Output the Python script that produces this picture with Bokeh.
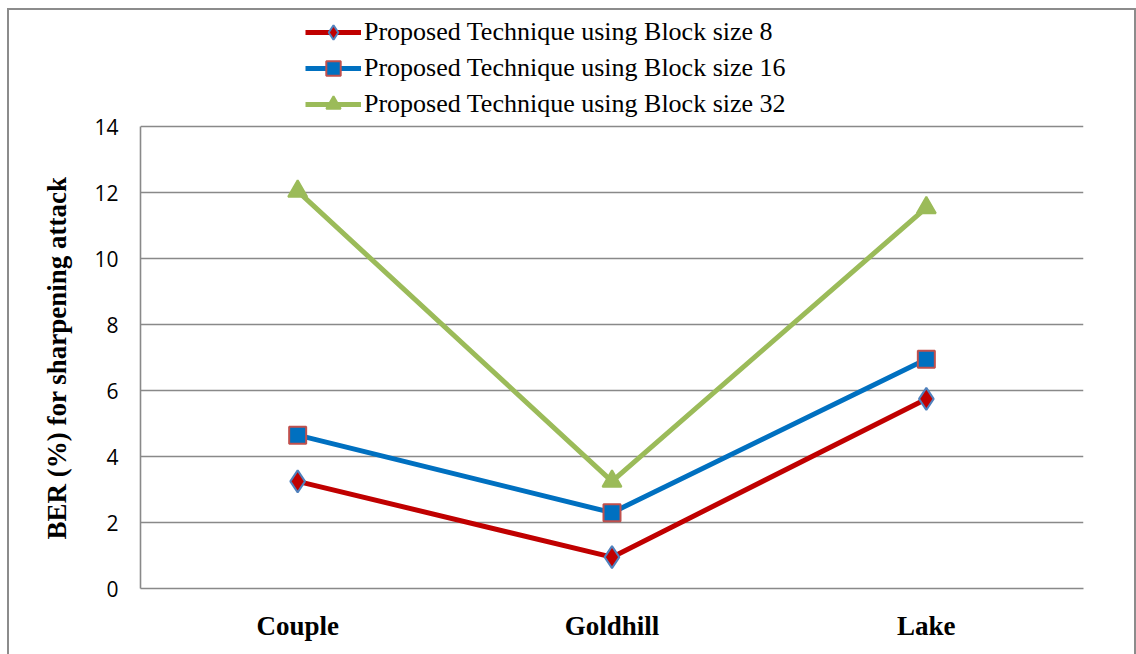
from bokeh.plotting import figure
from bokeh.models import (FactorRange, Range1d, Legend, LegendItem, FixedTicker,
                          ColumnDataSource, Title)
from bokeh.embed import file_html
from bokeh.resources import INLINE

categories = ["Couple", "Goldhill", "Lake"]
block8 = [3.25, 0.95, 5.75]
block16 = [4.65, 2.3, 6.95]
block32 = [12.05, 3.25, 11.55]
series_names = ["Proposed Technique using Block size 8",
                "Proposed Technique using Block size 16",
                "Proposed Technique using Block size 32"]
y_ticks = [0, 2, 4, 6, 8, 10, 12, 14]
y_label = "BER (%) for sharpening attack"

# layout (pixels): frame from y=14 to 586; value 14 sits at y=126
frame_top, frame_bottom, top_value_px = 14, 586, 126
y_max = y_ticks[-1]
y_end = y_max * (frame_bottom - frame_top) / (frame_bottom - top_value_px)

p = figure(x_range=FactorRange(*categories), y_range=Range1d(0, y_end),
           width=1129, height=646, output_backend="svg", toolbar_location=None,
           title=None,
           min_border_left=131, min_border_right=55, min_border_top=4, min_border_bottom=68)
p.x_range.range_padding = 0
p.margin = (8, 0, 0, 7)
p.styles = {"border-left": "2px solid #8c8c8c", "border-top": "2px solid #8c8c8c",
            "border-right": "2px solid #8c8c8c"}
p.outline_line_color = None
p.background_fill_color = "white"
p.border_fill_color = "white"

grid_col = "#898989"
p.xgrid.grid_line_color = None
p.ygrid.grid_line_color = grid_col
p.ygrid.grid_line_width = 1.6

p.yaxis.ticker = FixedTicker(ticks=y_ticks)
p.yaxis.bounds = (0, y_max)
p.yaxis.major_tick_out = 0
p.yaxis.major_tick_in = 0
p.yaxis.minor_tick_out = 0
p.yaxis.minor_tick_in = 0
p.yaxis.axis_line_color = grid_col
p.yaxis.axis_line_width = 1.6
p.yaxis.major_label_text_font = "Open Sans"
p.yaxis.major_label_text_font_size = "21px"
p.yaxis.major_label_text_color = "black"
p.yaxis.major_label_standoff = 22

p.xaxis.major_tick_out = 0
p.xaxis.major_tick_in = 0
p.xaxis.axis_line_color = grid_col
p.xaxis.axis_line_width = 1.6
p.xaxis.major_label_text_font = "Liberation Serif"
p.xaxis.major_label_text_font_style = "bold"
p.xaxis.major_label_text_font_size = "27px"
p.xaxis.major_label_text_color = "black"
p.xaxis.major_label_standoff = 22

ytitle = Title(text=y_label, align="left", offset=frame_bottom - 537,
               vertical_align="middle", standoff=38,
               text_font="Liberation Serif", text_font_style="bold",
               text_font_size="27px", text_color="black")
p.add_layout(ytitle, "left")

styles = [
    (block8, "#C00000", "diamond", "#C00000", "#4F81BD", 22),
    (block16, "#0070C0", "square", "#0070C0", "#C0504D", 17),
    (block32, "#9BBB59", "triangle", "#9BBB59", "#9BBB59", 19),
]
items = []
for (vals, lc, mk, fc, oc, sz), name in zip(styles, series_names):
    src = ColumnDataSource(dict(x=categories, y=vals))
    l = p.line("x", "y", source=src, line_color=lc, line_width=5)
    s = p.scatter("x", "y", source=src, marker=mk, size=sz, fill_color=fc,
                  line_color=oc, line_width=2)
    items.append(LegendItem(label=name, renderers=[l, s]))

legend = Legend(items=items, location=(165, 466), orientation="vertical",
                padding=0, margin=0, spacing=0, label_height=36, glyph_height=36,
                glyph_width=56, label_standoff=3,
                label_text_font="Liberation Serif", label_text_font_size="26px",
                label_text_color="black", border_line_color=None,
                background_fill_alpha=0)
p.add_layout(legend, "center")

open("out.html", "w").write(file_html(p, INLINE))
